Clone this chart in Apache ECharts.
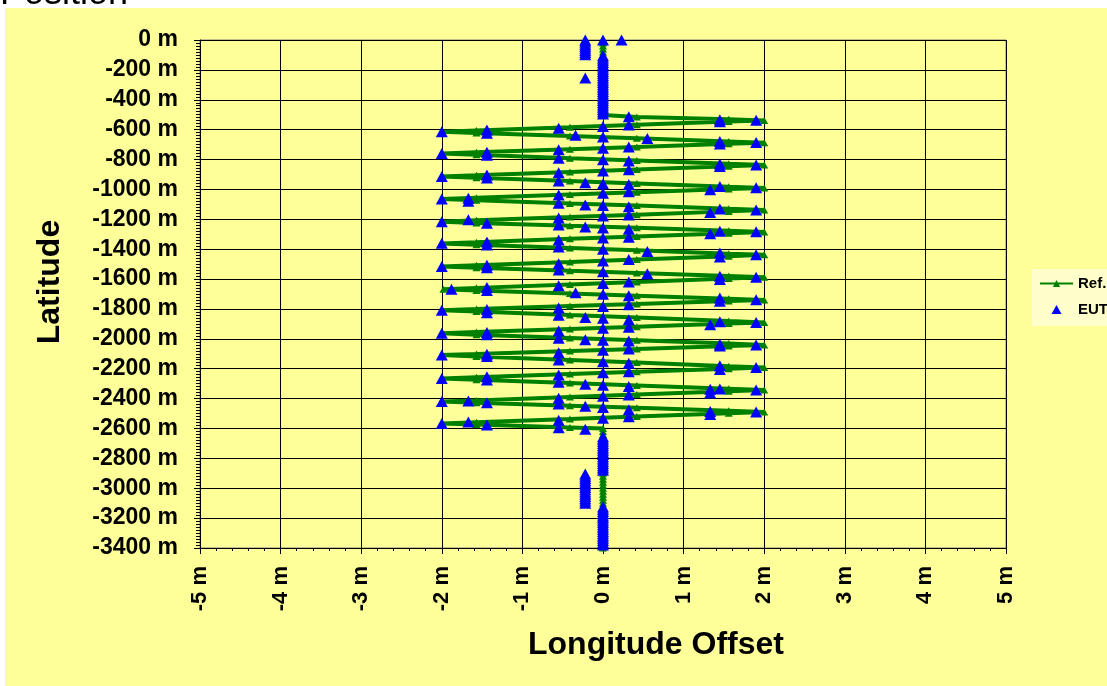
<!DOCTYPE html>
<html>
<head>
<meta charset="utf-8">
<title>Position</title>
<script src="https://cdn.jsdelivr.net/npm/echarts@6/dist/echarts.min.js"></script>
<style>
  html, body { margin: 0; padding: 0; background: #ffffff; }
  #wrap { position: relative; width: 1107px; height: 686px; overflow: hidden; background: #ffffff; }
  #frame { position: absolute; left: 5px; top: 8px; width: 1102px; height: 678px; background: #FFFF99; }
  #chart { position: absolute; left: 0; top: 0; width: 1107px; height: 686px; }
</style>
</head>
<body>
<div id="wrap"><div id="frame"></div><div id="chart"></div></div>
<script>
// Track centre line (longitude offset of the straight legs, m)
const centerLon = 0;
// Longitude offset of the parallel lane next to the straight legs (m)
const westLaneLon = -0.22;

// Reference track: straight northern leg (latitude, m)
const refNorthLat = [0, -20, -40, -60, -80, -100, -120, -140, -160, -180, -200, -220, -240,
  -260, -280, -300, -320, -340, -360, -380, -400, -420, -440, -460, -480];

// Reference track: weaving section, [longitude offset m, latitude m]
const refWeave = [
  [0, -502], [0.42, -516], [1.56, -531], [2.0, -538],
  [1.56, -546], [0.42, -568], [-0.41, -584], [-1.57, -606], [-2.0, -614],
  [-1.57, -622], [-0.41, -643], [0.42, -658], [1.56, -679], [2.0, -687],
  [1.56, -695], [0.42, -716], [-0.41, -731], [-1.57, -752], [-2.0, -760],
  [-1.57, -768], [-0.41, -791], [0.42, -806], [1.56, -829], [2.0, -837],
  [1.56, -845], [0.42, -867], [-0.41, -883], [-1.57, -906], [-2.0, -914],
  [-1.57, -922], [-0.41, -944], [0.42, -960], [1.56, -982], [2.0, -990],
  [1.56, -998], [0.42, -1019], [-0.41, -1034], [-1.57, -1056], [-2.0, -1064],
  [-1.57, -1072], [-0.41, -1094], [0.42, -1108], [1.56, -1130], [2.0, -1138],
  [1.56, -1147], [0.42, -1169], [-0.41, -1185], [-1.57, -1207], [-2.0, -1216],
  [-1.57, -1224], [-0.41, -1244], [0.42, -1257], [1.56, -1277], [2.0, -1285],
  [1.56, -1293], [0.42, -1315], [-0.41, -1331], [-1.57, -1354], [-2.0, -1362],
  [-1.57, -1370], [-0.41, -1392], [0.42, -1408], [1.56, -1430], [2.0, -1438],
  [1.56, -1447], [0.42, -1469], [-0.41, -1485], [-1.57, -1507], [-2.0, -1516],
  [-1.57, -1524], [-0.41, -1545], [0.42, -1559], [1.56, -1580], [2.0, -1588],
  [1.56, -1597], [0.42, -1620], [-0.41, -1636], [-1.57, -1659], [-1.98, -1668],
  [-1.57, -1676], [-0.41, -1697], [0.42, -1711], [1.56, -1732], [2.0, -1740],
  [1.56, -1747], [0.42, -1767], [-0.41, -1781], [-1.57, -1801], [-2.0, -1808],
  [-1.57, -1817], [-0.41, -1841], [0.42, -1857], [1.56, -1881], [2.0, -1890],
  [1.56, -1898], [0.42, -1919], [-0.41, -1934], [-1.57, -1955], [-2.0, -1963],
  [-1.57, -1972], [-0.41, -1994], [0.42, -2010], [1.56, -2032], [2.0, -2041],
  [1.56, -2048], [0.42, -2068], [-0.41, -2082], [-1.57, -2102], [-2.0, -2109],
  [-1.57, -2118], [-0.41, -2142], [0.42, -2159], [1.56, -2183], [2.0, -2192],
  [1.56, -2200], [0.42, -2221], [-0.41, -2236], [-1.57, -2257], [-2.0, -2265],
  [-1.57, -2274], [-0.41, -2296], [0.42, -2312], [1.56, -2334], [2.0, -2343],
  [1.56, -2351], [0.42, -2373], [-0.41, -2389], [-1.57, -2412], [-2.0, -2420],
  [-1.57, -2428], [-0.41, -2448], [0.42, -2462], [1.56, -2482], [2.0, -2490],
  [1.56, -2498], [0.42, -2520], [-0.41, -2536], [-1.57, -2558], [-2.0, -2566],
  [-1.57, -2573], [-0.41, -2593], [0, -2600]
];

// Reference track: straight southern leg (latitude, m)
const refSouthLat = [-2620, -2640, -2660, -2680, -2700, -2720, -2740, -2760, -2780, -2800,
  -2820, -2840, -2860, -2880, -2900, -2920, -2940, -2960, -2980, -3000, -3020, -3040, -3060,
  -3080, -3100, -3120, -3140, -3160, -3180, -3200, -3220, -3240, -3260, -3280, -3300, -3320,
  -3340, -3360, -3380, -3400];

// EUT fixes on the northern leg
const eutNorthCenterLat = [0, -105, -120, -135, -150, -165, -180, -195, -210, -225, -240, -255,
  -270, -285, -300, -315, -330, -345, -360, -375, -390, -405, -420, -435, -450, -465, -480, -495];
const eutNorthWestLat = [0, -14, -28, -42, -56, -70, -84, -98, -255];
const eutNorthEast = [[0.23, 0]];

// EUT fixes through the weaving section, [longitude offset m, latitude m]
const eutWeave = [
  [0.32, -513], [1.45, -533], [1.9, -537],
  [1.45, -547], [0.32, -569], [0, -579], [-0.55, -590], [-1.44, -603], [-2.0, -614],
  [-1.44, -624], [-0.34, -638], [0, -650], [0.55, -659], [1.45, -679], [1.9, -686],
  [1.45, -696], [0.32, -716], [0, -724], [-0.55, -735], [-1.44, -751], [-2.0, -760],
  [-1.44, -772], [-0.55, -792], [0, -801], [0.32, -810], [1.45, -830], [1.9, -836],
  [1.45, -846], [0.32, -869], [0, -876], [-0.55, -889], [-1.44, -904], [-2.0, -914],
  [-1.44, -924], [-0.55, -944], [-0.22, -956], [0, -962], [0.32, -967], [1.45, -980], [1.9, -989],
  [1.33, -1003], [0.32, -1016], [0, -1026], [-0.55, -1037], [-1.67, -1059], [-2.0, -1064],
  [-1.67, -1080], [-0.55, -1093], [-0.22, -1104], [0, -1108], [0.32, -1116], [1.45, -1131], [1.9, -1138],
  [1.33, -1154], [0.32, -1171], [0, -1178], [-0.55, -1192], [-1.67, -1203], [-2.0, -1216],
  [-1.44, -1227], [-0.55, -1239], [-0.22, -1252], [0, -1258], [0.32, -1266], [1.45, -1280], [1.9, -1284],
  [1.33, -1296], [0.32, -1320], [0, -1326], [-0.55, -1338], [-1.44, -1352], [-2.0, -1361],
  [-1.44, -1372], [-0.55, -1386], [0, -1401], [0.55, -1415], [1.45, -1426], [1.9, -1438],
  [1.45, -1452], [0.32, -1469], [0, -1479], [-0.55, -1497], [-1.44, -1508], [-2.0, -1516],
  [-1.44, -1525], [-0.55, -1540], [0, -1551], [0.55, -1565], [1.45, -1582], [1.9, -1588],
  [1.45, -1603], [0.32, -1619], [0, -1629], [-0.55, -1644], [-1.44, -1656], [-1.88, -1668],
  [-1.44, -1676], [-0.34, -1692], [0, -1701], [0.32, -1712], [1.45, -1726], [1.9, -1738],
  [1.45, -1748], [0.32, -1772], [0, -1783], [-0.55, -1794], [-1.44, -1803], [-2.0, -1808],
  [-1.44, -1826], [-0.55, -1843], [-0.22, -1857], [0, -1862], [0.32, -1872], [1.45, -1886], [1.9, -1890],
  [1.33, -1906], [0.32, -1922], [0, -1930], [-0.55, -1948], [-1.44, -1958], [-2.0, -1963],
  [-1.44, -1973], [-0.55, -1996], [-0.22, -2006], [0, -2010], [0.32, -2015], [1.45, -2036], [1.9, -2041],
  [1.45, -2048], [0.32, -2068], [0, -2076], [-0.55, -2094], [-1.44, -2104], [-2.0, -2109],
  [-1.44, -2118], [-0.55, -2141], [0, -2153], [0.32, -2163], [1.45, -2181], [1.9, -2192],
  [1.45, -2206], [0.32, -2220], [0, -2227], [-0.55, -2242], [-1.44, -2254], [-2.0, -2265],
  [-1.44, -2275], [-0.55, -2291], [-0.22, -2304], [0, -2310], [0.32, -2319], [1.33, -2338], [1.45, -2336], [1.9, -2343],
  [1.33, -2362], [0.32, -2376], [0, -2385], [-0.55, -2398], [-1.67, -2416], [-2.0, -2420],
  [-1.44, -2428], [-0.55, -2436], [-0.22, -2452], [0, -2460], [0.32, -2474], [1.33, -2486], [1.9, -2490],
  [1.33, -2506], [0.32, -2521], [0, -2531], [-0.55, -2545], [-1.67, -2556], [-2.0, -2566],
  [-1.44, -2577], [-0.55, -2596], [-0.22, -2606]
];

// EUT fixes on the southern leg
const eutSouthCenterLat = [-2655, -2670, -2685, -2700, -2715, -2730, -2745, -2760, -2775, -2790,
  -2805, -2820, -2835, -2850, -2865, -2880,
  -3125, -3140, -3155, -3170, -3185, -3200, -3215, -3230, -3245, -3260, -3275, -3290, -3305,
  -3320, -3335, -3350, -3365, -3380];
const eutSouthWestLat = [-2905, -2920, -2935, -2950, -2965, -2980, -2995, -3010, -3025, -3040,
  -3055, -3070, -3085, -3100];

// Axis ranges
const lonRange = [-5, 5];
const latRange = [-3400, 0];

const refData = []
  .concat(refNorthLat.map(v => [centerLon, v]))
  .concat(refWeave)
  .concat(refSouthLat.map(v => [centerLon, v]));

const eutData = []
  .concat(eutNorthCenterLat.map(v => [centerLon, v]))
  .concat(eutNorthWestLat.map(v => [westLaneLon, v]))
  .concat(eutNorthEast)
  .concat(eutWeave)
  .concat(eutSouthCenterLat.map(v => [centerLon, v]))
  .concat(eutSouthWestLat.map(v => [westLaneLon, v]));

const FONT = '"Liberation Sans", Arial, sans-serif';
const metres = v => v + ' m';
// Small upright triangle used as the EUT legend key
const triangleKey = 'path://M5,0L10,9L0,9Z';

const chart = echarts.init(document.getElementById('chart'), null, { renderer: 'canvas' });

chart.setOption({
  animation: false,
  backgroundColor: 'transparent',
  grid: {
    left: 200, top: 40, right: 101, bottom: 138,
    show: true, backgroundColor: 'transparent',
    borderColor: '#808080', borderWidth: 1
  },
  xAxis: {
    type: 'value',
    min: lonRange[0], max: lonRange[1], interval: 1,
    axisLine: { onZero: false, lineStyle: { color: '#000', width: 1 } },
    axisTick: { show: true, length: 6, lineStyle: { color: '#000' } },
    minorTick: { show: true, splitNumber: 5, length: 3, lineStyle: { color: '#000' } },
    splitLine: { show: true, lineStyle: { color: '#000', width: 1 } },
    axisLabel: {
      rotate: 90, margin: 18, formatter: metres,
      fontFamily: FONT, fontWeight: 'bold', fontSize: 22, color: '#000'
    }
  },
  yAxis: {
    type: 'value',
    min: latRange[0], max: latRange[1], interval: 200,
    axisLine: { onZero: false, lineStyle: { color: '#000', width: 1 } },
    axisTick: { show: true, length: 6, lineStyle: { color: '#000' } },
    minorTick: { show: true, splitNumber: 10, length: 4, lineStyle: { color: '#000' } },
    splitLine: { show: true, lineStyle: { color: '#000', width: 1 } },
    axisLabel: {
      margin: 22, formatter: metres,
      fontFamily: FONT, fontWeight: 'bold', fontSize: 23, color: '#000'
    }
  },
  legend: {
    orient: 'vertical',
    left: 1032, top: 269,
    padding: [7, 40, 9, 7],
    backgroundColor: '#FFFFCC',
    itemWidth: 33, itemHeight: 9, itemGap: 11,
    symbolKeepAspect: true,
    textStyle: { fontFamily: FONT, fontWeight: 'bold', fontSize: 15, color: '#000' },
    data: [{ name: 'Ref.' }, { name: 'EUT', icon: triangleKey }]
  },
  graphic: [
    {
      type: 'text', left: 0, top: -24,
      style: { text: 'Position', font: 'normal 36px ' + FONT, fill: '#000' }
    },
    {
      type: 'text', x: 50, y: 282, rotation: Math.PI / 2,
      style: {
        text: 'Latitude', font: 'bold 32px ' + FONT, fill: '#000',
        align: 'center', verticalAlign: 'middle'
      }
    },
    {
      type: 'text', x: 656, y: 645,
      style: {
        text: 'Longitude Offset', font: 'bold 32px ' + FONT, fill: '#000',
        align: 'center', verticalAlign: 'middle'
      }
    }
  ],
  series: [
    {
      name: 'Ref.', type: 'line', data: refData,
      symbol: 'triangle', symbolSize: [8, 7], showSymbol: true,
      lineStyle: { color: '#008000', width: 4 },
      itemStyle: { color: '#008000', opacity: 1 },
      z: 2
    },
    {
      name: 'EUT', type: 'scatter', data: eutData,
      symbol: 'triangle', symbolSize: [12, 11],
      itemStyle: { color: '#0000FF', opacity: 1 },
      z: 3
    }
  ]
});
</script>
</body>
</html>
